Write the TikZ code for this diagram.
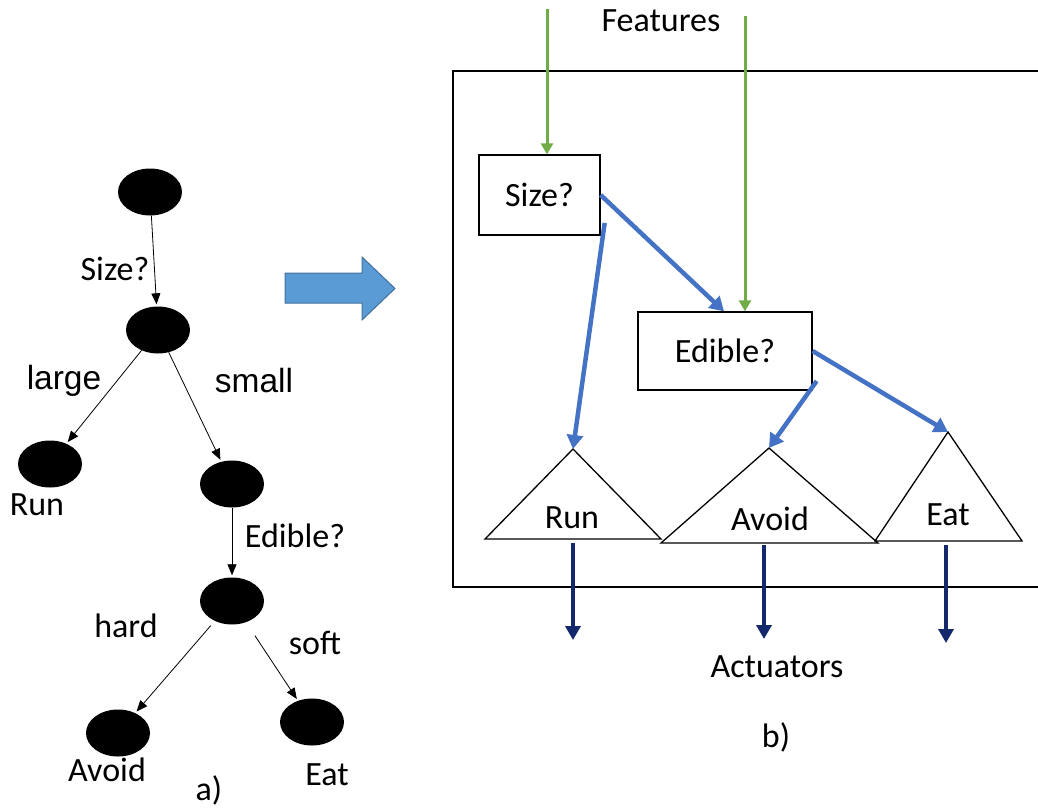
\documentclass[tikz,border=0pt]{standalone}
\usepackage{fontspec}
\setmainfont{Carlito}
\newfontfamily\arialf{Liberation Sans}
\usetikzlibrary{shapes.geometric,arrows.meta}
\definecolor{fgreen}{HTML}{70AD47}
\definecolor{fblue}{HTML}{4472C4}
\definecolor{dblue}{HTML}{13296B}
\definecolor{arrfill}{HTML}{5B9BD5}
\definecolor{arrdraw}{HTML}{41719C}
\begin{document}
\begin{tikzpicture}[x=1pt,y=-1pt,font=\fontsize{34}{40}\selectfont,
 dot/.style={ellipse,fill=black,minimum width=64pt,minimum height=47pt,inner sep=0pt},
 treearr/.style={-{Triangle[width=9pt,length=11pt]},line width=0.8pt,shorten >=2pt},
 lbl/.style={inner sep=0pt},
 qbox/.style={draw,line width=1.3pt,rectangle,inner sep=0pt},
 tri/.style={draw,line width=1.3pt},
 feat/.style={fgreen,line width=3pt,-{Triangle[width=12pt,length=11pt]}},
 flow/.style={fblue,line width=4.5pt,-{Triangle[width=16pt,length=14pt]}},
 act/.style={dblue,line width=4pt,-{Triangle[width=15pt,length=14pt]}}]
\useasboundingbox (0,0) rectangle (1038,808);

% ---------- a) decision tree ----------
\node[dot] (e1) at (150,192) {};
\node[dot] (e2) at (158,330) {};
\node[dot] (erun) at (50,464) {};
\node[dot] (e4) at (232,484) {};
\node[dot] (e5) at (232,601) {};
\node[dot] (eav) at (118,733) {};
\node[dot] (eeat) at (312,722) {};

\draw[treearr] (e1) -- (e2);
\draw[treearr] (e2) -- (erun);
\draw[treearr] (e2) -- (e4);
\draw[treearr] (e4) -- (e5);
\draw[treearr,shorten <=6pt] (e5) -- (eav);
\draw[treearr,shorten <=16pt] (e5) -- (eeat);

\node[lbl] (lsize) at (115,269) {Size?};
\node[lbl,font=\arialf\fontsize{33.5}{40}\selectfont] (llarge) at (64,381) {large};
\node[lbl,font=\arialf\fontsize{33.5}{40}\selectfont] (lsmall) at (254,381) {small};
\node[lbl] (lrun) at (37,505) {Run};
\node[lbl] (ledible) at (295,536) {Edible?};
\node[lbl] (lhard) at (126,626) {hard};
\node[lbl] (lsoft) at (315,643) {soft};
\node[lbl] (lavoid) at (107,770) {Avoid};
\node[lbl] (leat) at (327,775) {Eat};
\node[lbl] (la) at (209,790) {a)};

% ---------- big arrow ----------
\draw[arrdraw,fill=arrfill,line width=1pt] (285,273) -- (362,273) -- (362,257) -- (395,288.5) -- (362,320) -- (362,303) -- (285,303) -- cycle;

% ---------- b) network ----------
\draw[line width=1.3pt] (1038,71) -- (453,71) -- (453,587) -- (1038,587);

\node[lbl] (features) at (661,21) {Features};
\coordinate (f1) at (547,9);
\coordinate (f2) at (745,16);

\node[qbox,minimum width=121pt,minimum height=80pt] (sizebox) at (539.5,195) {Size?};
\node[qbox,minimum width=174pt,minimum height=78pt] (edbox) at (725,351) {Edible?};

\draw[tri] (485,539) -- (573,449) -- (661,539) -- cycle;
\draw[tri] (661,543) -- (769,448) -- (878,543) -- cycle;
\draw[tri] (875,541) -- (948,432) -- (1022,541) -- cycle;
\coordinate (runtop) at (573,449);
\coordinate (avtop) at (769,448);
\coordinate (eattop) at (948,432);
\node[lbl] (trun) at (572,518) {Run};
\node[lbl] (tavoid) at (770,519) {Avoid};
\node[lbl] (teat) at (948,515) {Eat};

\draw[feat] (f1) -- (f1 |- sizebox.north);
\draw[feat] (f2) -- (f2 |- edbox.north);

\draw[flow] (sizebox.east) -- ([xshift=-1pt]edbox.north);
\draw[flow] ([xshift=4pt,yshift=-28pt]sizebox.east) -- (runtop);
\draw[flow] ([xshift=4pt,yshift=-30pt]edbox.east) -- (avtop);
\draw[flow] (edbox.east) -- (eattop);

\coordinate (r0) at (573,543);
\coordinate (r1) at (573,640);
\coordinate (v0) at (764,545);
\coordinate (v1) at (764,639);
\coordinate (t0) at (946,545);
\coordinate (t1) at (946,643);
\draw[act] (r0) -- (r1);
\draw[act] (v0) -- (v1);
\draw[act] (t0) -- (t1);

\node[lbl] (actuators) at (777,667) {Actuators};
\node[lbl] (lb) at (776,737) {b)};
\end{tikzpicture}
\end{document}
